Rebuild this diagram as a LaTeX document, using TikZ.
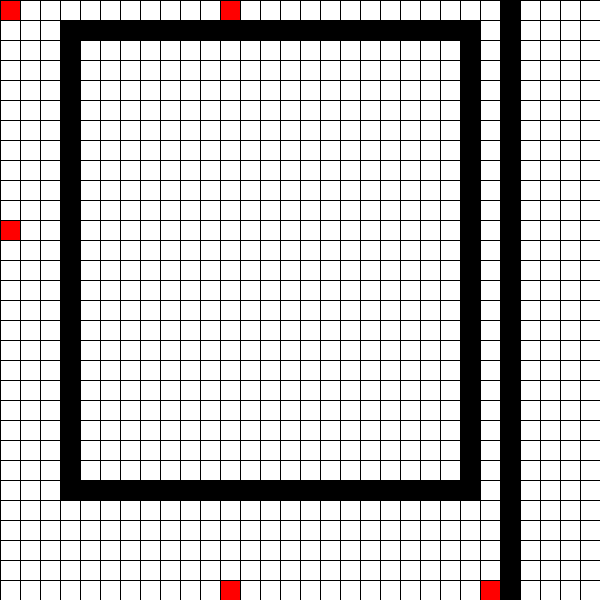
\documentclass[tikz,border=0pt]{standalone}
\begin{document}
\begin{tikzpicture}[x=1cm,y=-1cm]
\useasboundingbox (0,0) rectangle (30,30);

% walls
\fill (3,1) rectangle (24,2);
\fill (3,24) rectangle (24,25);
\fill (3,1) rectangle (4,25);
\fill (23,1) rectangle (24,25);
\fill (25,0) rectangle (26,30);

% red cells
\foreach \x/\y in {0/0, 11/0, 0/11, 11/29, 24/29}
  \fill[red] (\x,\y) rectangle (\x+1,\y+1);

% grid
\draw[line width=0.04cm] (0,0) grid (30,30);
\end{tikzpicture}
\end{document}
